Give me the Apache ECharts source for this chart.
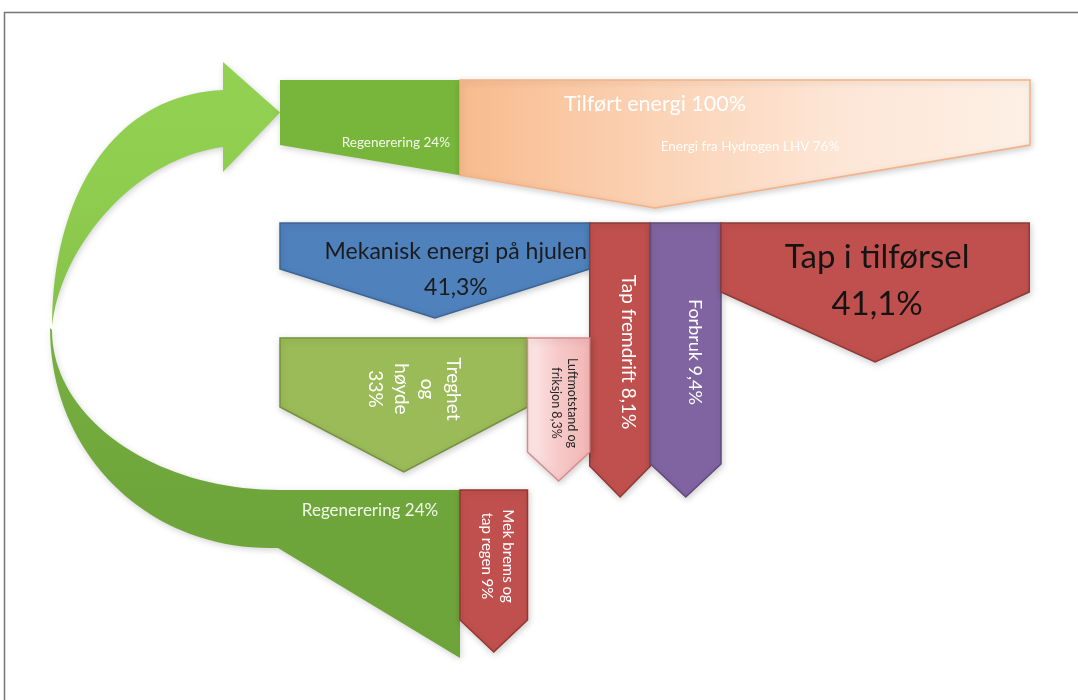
<!DOCTYPE html>
<html>
<head>
<meta charset="utf-8">
<script src="https://cdn.jsdelivr.net/npm/echarts@6/dist/echarts.min.js"></script>
<style>
  html, body { margin: 0; padding: 0; background: #ffffff; }
  #chart { width: 1078px; height: 700px; }
</style>
</head>
<body>
<div id="chart"></div>
<script>
// Energy flow of the vehicle, shares in percent of supplied energy
const totalName = 'Tilført energi';
const totalValue = 100;
const supplyNames = ['Regenerering', 'Energi fra Hydrogen LHV'];
const supplyValues = [24, 76];
const wheelNames = ['Mekanisk energi på hjulen', 'Tap fremdrift', 'Forbruk', 'Tap i tilførsel'];
const wheelValues = [41.3, 8.1, 9.4, 41.1];
const motionNames = ['Treghet\nog\nhøyde', 'Luftmotstand og\nfriksjon'];
const motionValues = [33, 8.3];
const brakeNames = ['Regenerering', 'Mek brems og\ntap regen'];
const brakeValues = [24, 9];

const FONT = 'Lato, "Open Sans", sans-serif';
const pct = v => String(v).replace('.', ',') + '%';

// consecutive [start, end] spans of a list of shares
function spans(values, offset) {
  let s = offset || 0;
  return values.map(v => { const r = [s, s + v]; s += v; return r; });
}
const supplySpans = spans(supplyValues);
const wheelSpans = spans(wheelValues);
const motionSpans = spans(motionValues);
const brakeSpans = spans(brakeValues);

const shadow = { shadowBlur: 6, shadowColor: 'rgba(0,0,0,0.18)', shadowOffsetX: 1, shadowOffsetY: 2 };
const lin = (x0, y0, x1, y1, stops) =>
  new echarts.graphic.LinearGradient(x0, y0, x1, y1, stops.map((c, i) => ({ offset: i / (stops.length - 1), color: c })));

// arrow blocks: span on the x scale, arrow the block belongs to, [top, shoulder, tip] rows
const blocks = [
  { span: supplySpans[0], arrow: [0, totalValue], geo: [80, 145, 208],
    fill: '#77b53b', stroke: null,
    labels: [{ text: supplyNames[0] + ' ' + pct(supplyValues[0]), anchor: 'right', dx: -10, y: 143, size: 13.5, color: '#f4fbe9' }] },
  { span: supplySpans[1], arrow: [0, totalValue], geo: [80, 145, 208],
    fill: lin(0, 0, 1, 0, ['#f8bb8e', '#fbd2b4', '#fde6d6', '#fdf0e6']), stroke: '#f4b183',
    labels: [{ text: supplyNames[1] + ' ' + pct(supplyValues[1]), dx: 5, y: 147, size: 13.5, color: 'rgba(255,255,255,0.92)' }] },
  { span: wheelSpans[0], arrow: wheelSpans[0], geo: [223, 269, 318],
    fill: '#4f81bd', stroke: '#3a6593',
    labels: [{ text: wheelNames[0] + '\n' + pct(wheelValues[0]), dx: 21, y: 270, size: 23, lh: 36, color: '#1b1b1b' }] },
  { span: wheelSpans[1], arrow: wheelSpans[1], geo: [223, 466, 497],
    fill: '#c0504d', stroke: '#8f3a38',
    labels: [{ text: wheelNames[1] + ' ' + pct(wheelValues[1]), dx: 8, y: 352, size: 19, rot: true, color: '#ffffff' }] },
  { span: wheelSpans[2], arrow: wheelSpans[2], geo: [223, 464, 497],
    fill: '#8064a2', stroke: '#5f4a7b',
    labels: [{ text: wheelNames[2] + ' ' + pct(wheelValues[2]), dx: 9, y: 352, size: 18, rot: true, color: '#ffffff' }] },
  { span: wheelSpans[3], arrow: wheelSpans[3], geo: [223, 292, 362],
    fill: '#c0504d', stroke: '#8f3a38',
    labels: [{ text: wheelNames[3] + '\n' + pct(wheelValues[3]), dx: 2, y: 281, size: 33, lh: 47, color: '#141414' }] },
  { span: motionSpans[0], arrow: motionSpans[0], geo: [338, 407, 472],
    fill: '#9bbb59', stroke: '#74913b',
    labels: [{ text: motionNames[0] + '\n' + pct(motionValues[0]), dx: 10, y: 389, size: 19, lh: 26, rot: true, color: '#ffffff' }] },
  { span: motionSpans[1], arrow: motionSpans[1], geo: [338, 452, 481],
    fill: lin(0, 0, 1, 0, ['#fdeaea', '#f6c9c8', '#f2b6b5']), stroke: '#d98b89',
    labels: [{ text: motionNames[1] + ' ' + pct(motionValues[1]), dx: 5.5, y: 403, size: 12.5, lh: 16, rot: true, color: '#262626' }] },
  { span: brakeSpans[1], arrow: brakeSpans[1], geo: [490, 620, 652],
    fill: '#c0504d', stroke: '#943634',
    labels: [{ text: brakeNames[1] + ' ' + pct(brakeValues[1]), dx: 4, y: 556, size: 15, lh: 21, rot: true, color: '#ffffff' }] }
];

function textEl(lb, x, y) {
  return {
    type: 'text', x: x, y: y, rotation: lb.rot ? -Math.PI / 2 : 0, z2: 10,
    style: {
      text: lb.text, x: 0, y: 0, fill: lb.color,
      font: lb.size + 'px ' + FONT, fontSize: lb.size, fontFamily: FONT,
      align: lb.anchor || 'center', verticalAlign: 'middle',
      lineHeight: lb.lh || Math.round(lb.size * 1.25)
    }
  };
}

function renderBlock(params, api) {
  const b = blocks[params.dataIndex];
  const X = v => api.coord([v, 0])[0];
  const Y = v => api.coord([0, v])[1];
  const [top, shoulder, tip] = b.geo.map(Y);
  const ax0 = X(b.arrow[0]), ax1 = X(b.arrow[1]);
  const x0 = X(b.span[0]), x1 = X(b.span[1]);
  const mid = (ax0 + ax1) / 2;
  const lower = x => x <= mid
    ? shoulder + (tip - shoulder) * (x - ax0) / (mid - ax0)
    : shoulder + (tip - shoulder) * (ax1 - x) / (ax1 - mid);
  const pts = [[x0, top], [x1, top], [x1, lower(x1)]];
  if (x0 < mid - 0.5 && x1 > mid + 0.5) pts.push([mid, tip]);
  pts.push([x0, lower(x0)]);
  const children = [{
    type: 'polygon', shape: { points: pts },
    style: Object.assign({ fill: b.fill, stroke: b.stroke || 'none', lineWidth: b.stroke ? 1.5 : 0, lineJoin: 'miter' }, shadow)
  }];
  const cx = (x0 + x1) / 2;
  b.labels.forEach(lb => {
    const x = lb.anchor === 'right' ? x1 + lb.dx : cx + lb.dx;
    children.push(textEl(lb, x, Y(lb.y)));
  });
  return { type: 'group', children: children };
}

// sample a cubic bezier into polygon points
function bez(p0, p1, p2, p3, n) {
  const out = [];
  for (let i = 0; i <= n; i++) {
    const t = i / n, u = 1 - t;
    out.push([
      u * u * u * p0[0] + 3 * u * u * t * p1[0] + 3 * u * t * t * p2[0] + t * t * t * p3[0],
      u * u * u * p0[1] + 3 * u * u * t * p1[1] + 3 * u * t * t * p2[1] + t * t * t * p3[1]
    ]);
  }
  return out;
}

// regenerated energy: bottom block curving back up into the supply arrow
function renderLoop(params, api) {
  const X = v => api.coord([v, 0])[0];
  const Y = v => api.coord([0, v])[1];
  const x0 = X(brakeSpans[0][0]), x1 = X(brakeSpans[0][1]);
  const head = X(supplySpans[0][0]);
  const midY = (Y(80) + Y(145)) / 2;
  const left = x0 - 230;

  const lowerPts = [[x1, Y(490)], [x1, Y(658)], [x0 - 2, Y(548)], [x0 - 10, Y(548)]]
    .concat(bez([x0 - 10, Y(548)], [x0 - 135, Y(548)], [left, Y(452)], [left, Y(328)], 40))
    .concat(bez([left + 2, Y(330)], [left + 2, Y(418)], [x0 - 126, Y(490)], [x0, Y(490)], 40));

  const hx = head - 57;
  const upperPts = bez([left + 2, Y(326)], [left + 2, Y(200)], [head - 170, Y(95)], [hx, Y(90)], 40)
    .concat([[hx, Y(62)], [head, midY], [hx, Y(172)]])
    .concat(bez([hx, Y(147)], [head - 150, Y(160)], [head - 220, Y(250)], [left + 2, Y(326)], 40));

  return {
    type: 'group',
    children: [
      { type: 'polygon', shape: { points: upperPts },
        style: Object.assign({ fill: lin(0, 0, 0, 1, ['#93d152', '#8fcd4f', '#84c048']) }, shadow) },
      { type: 'polygon', shape: { points: lowerPts },
        style: Object.assign({ fill: lin(0, 0, 0, 1, ['#78b042', '#6fa63b', '#6da43a']) }, shadow) },
      textEl({ text: brakeNames[0] + ' ' + pct(brakeValues[0]), size: 17, color: '#f1f8e8' }, (x0 + x1) / 2, Y(511))
    ]
  };
}

// heading of the supply arrow
function renderTitle(params, api) {
  const x = (api.coord([0, 0])[0] + api.coord([totalValue, 0])[0]) / 2;
  return textEl({ text: totalName + ' ' + pct(totalValue), size: 21.5, color: '#ffffff' }, x, api.coord([0, 104])[1]);
}

const chart = echarts.init(document.getElementById('chart'), null, { renderer: 'canvas' });
chart.setOption({
  backgroundColor: '#ffffff',
  animation: false,
  grid: { left: 280, right: 48, top: 0, bottom: 0 },
  xAxis: { type: 'value', min: 0, max: totalValue, show: false },
  yAxis: { type: 'value', min: 0, max: 700, inverse: true, show: false },
  graphic: [{
    type: 'rect', silent: true,
    shape: { x: 4.5, y: 12.5, width: 1100, height: 720 },
    style: { fill: 'none', stroke: '#767676', lineWidth: 1.5 }
  }],
  series: [
    { type: 'custom', coordinateSystem: 'cartesian2d', renderItem: renderLoop, data: [[0, 0]], z: 1, silent: true },
    { type: 'custom', coordinateSystem: 'cartesian2d', renderItem: renderBlock,
      data: blocks.map((b, i) => [b.span[0], i]), z: 2, silent: true },
    { type: 'custom', coordinateSystem: 'cartesian2d', renderItem: renderTitle, data: [[0, 0]], z: 3, silent: true }
  ]
});
</script>
</body>
</html>
